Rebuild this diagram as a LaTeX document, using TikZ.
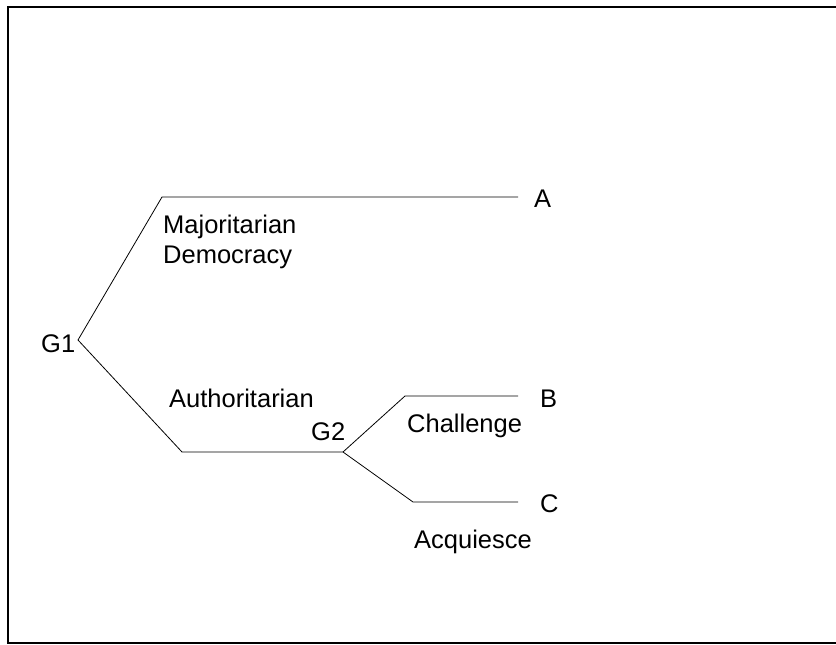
\documentclass[tikz,border=0pt]{standalone}
\usepackage{fontspec}
\setmainfont{Liberation Sans}
\usepackage{tikz}
\begin{document}
\begin{tikzpicture}[x=1pt,y=-1pt]
\tikzstyle{move} =[anchor=base west,inner sep=0pt,font=\fontsize{25.5}{30}\selectfont,align=left]
\tikzstyle{branch} =[line width=0.8pt,line join=miter]
\useasboundingbox (0,0) rectangle (836,645);
\draw [line width=2pt] (836,6.5) -- (7.5,6.5) -- (7.5,643) -- (836,643);
% decision points
\coordinate (g1) at (78,340);
\coordinate (g2) at (343,452);
\coordinate (m1) at (162,197);
\coordinate (m2) at (182,452);
\coordinate (c1) at (405,396);
\coordinate (c2) at (413,502);
\coordinate (ea) at (518,197);
\coordinate (eb) at (518,396);
\coordinate (ec) at (518,502);
% labels
\node[move](G1) at (41,352){G1};
\node[move](G2) at (311,440){G2};
\node[move](A) at (534,207){A};
\node[move](B) at (540,407){B};
\node[move](C) at (540,512){C};
\node[move](maj) at (163,233){Majoritarian};
\node[move](dem) at (163,263){Democracy};
\node[move](aut) at (169,407){Authoritarian};
\node[move](cha) at (407,432){Challenge};
\node[move](acq) at (414,548){Acquiesce};
\draw [branch] (g1) -- (m1) -- (ea);
\draw [branch] (g1) -- (m2) -- (g2);
\draw [branch] (g2) -- (c1) -- (eb);
\draw [branch] (g2) -- (c2) -- (ec);
\end{tikzpicture}
\end{document}
